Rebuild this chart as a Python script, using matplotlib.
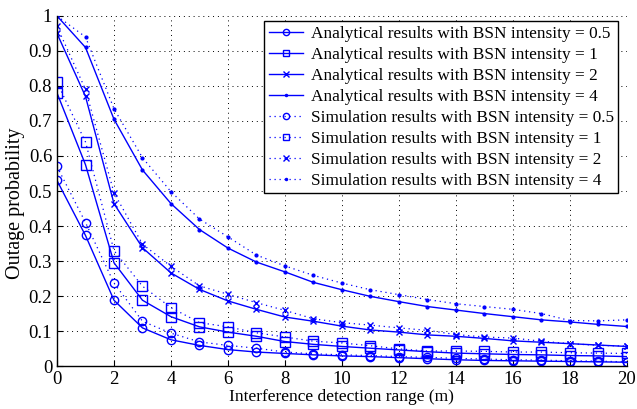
import matplotlib
matplotlib.use("Agg")
import matplotlib.pyplot as plt
import numpy as np

plt.rcParams['font.family'] = ['Liberation Serif', 'DejaVu Serif']
plt.rcParams['mathtext.fontset'] = 'stix'

x = list(range(0, 21))

ana_05 = [0.53, 0.373, 0.188, 0.109, 0.075, 0.059, 0.047, 0.040, 0.036, 0.032, 0.029,
          0.027, 0.024, 0.021, 0.018, 0.016, 0.015, 0.014, 0.013, 0.012, 0.011]
ana_1 = [0.78, 0.575, 0.295, 0.188, 0.141, 0.112, 0.097, 0.085, 0.070, 0.062, 0.056,
         0.051, 0.046, 0.041, 0.037, 0.035, 0.033, 0.032, 0.030, 0.029, 0.027]
ana_2 = [0.95, 0.77, 0.464, 0.338, 0.266, 0.219, 0.186, 0.162, 0.140, 0.128, 0.114,
         0.103, 0.097, 0.089, 0.085, 0.079, 0.072, 0.068, 0.064, 0.060, 0.056]
ana_4 = [1.0, 0.91, 0.705, 0.56, 0.464, 0.390, 0.337, 0.297, 0.269, 0.239, 0.218,
         0.199, 0.184, 0.170, 0.160, 0.150, 0.141, 0.132, 0.126, 0.119, 0.113]

sim_05 = [0.57, 0.41, 0.237, 0.128, 0.094, 0.069, 0.059, 0.051, 0.040, 0.035, 0.032,
          0.030, 0.027, 0.025, 0.022, 0.020, 0.018, 0.017, 0.015, 0.014, 0.012]
sim_1 = [0.81, 0.64, 0.33, 0.228, 0.167, 0.124, 0.112, 0.095, 0.083, 0.071, 0.066,
         0.058, 0.049, 0.043, 0.043, 0.042, 0.040, 0.040, 0.038, 0.037, 0.036]
sim_2 = [0.97, 0.79, 0.495, 0.348, 0.285, 0.229, 0.205, 0.181, 0.159, 0.135, 0.124,
         0.117, 0.109, 0.102, 0.090, 0.083, 0.080, 0.071, 0.064, 0.059, 0.057]
sim_4 = [1.0, 0.94, 0.735, 0.595, 0.498, 0.42, 0.369, 0.317, 0.286, 0.259, 0.237,
         0.218, 0.204, 0.190, 0.178, 0.170, 0.162, 0.150, 0.130, 0.129, 0.132]

intensities = ['0.5', '1', '2', '4']
markers = ['o', 's', 'x', '.']
msizes = [6, 6.5, 5, 4]

fig = plt.figure(figsize=(6.37, 4.09), dpi=100)
ax = fig.add_axes([0.0895, 0.105, 0.8945, 0.856])

blue = '#0000ff'
for ys, m, ms, lab in zip([ana_05, ana_1, ana_2, ana_4], markers, msizes, intensities):
    ax.plot(x, ys, color=blue, linestyle='-', linewidth=1.0, marker=m, markersize=ms,
            markerfacecolor='none' if m in 'os' else blue, markeredgewidth=1.0,
            label='Analytical results with BSN intensity = ' + lab)
for ys, m, ms, lab in zip([sim_05, sim_1, sim_2, sim_4], markers, msizes, intensities):
    ax.plot(x, ys, color=blue, linestyle=(0, (1, 3)), linewidth=0.9, marker=m, markersize=ms,
            markerfacecolor='none' if m in 'os' else blue, markeredgewidth=1.0,
            label='Simulation results with BSN intensity = ' + lab)

ax.set_xlim(0, 20)
ax.set_ylim(0, 1)
ax.set_xticks(range(0, 21, 2))
ax.set_yticks(np.arange(0, 1.01, 0.1))
ax.set_yticklabels(['0', '0.1', '0.2', '0.3', '0.4', '0.5', '0.6', '0.7', '0.8', '0.9', '1'])
ax.tick_params(direction='in', labelsize=13.5, length=4, width=0.8)
ax.grid(True, linestyle=(0, (1, 4)), color='black', linewidth=0.7)
for s in ['top', 'right']:
    ax.spines[s].set_visible(False)
for s in ['left', 'bottom']:
    ax.spines[s].set_linewidth(1.0)

ax.set_xlabel('Interference detection range (m)', fontsize=12.5, labelpad=1)
ax.set_ylabel('Outage probability', fontsize=14.5)
ax.yaxis.set_label_coords(-0.056, 0.466)

leg = ax.legend(loc='upper right', bbox_to_anchor=(0.985, 0.985), fontsize=12.4, numpoints=1,
                fancybox=False, framealpha=1, edgecolor='black', handlelength=2.0,
                handletextpad=0.45, borderpad=0.25, labelspacing=0.29, borderaxespad=0,
                markerscale=0.75)
leg.get_frame().set_linewidth(1.0)

fig.savefig('out.png', dpi=100)
